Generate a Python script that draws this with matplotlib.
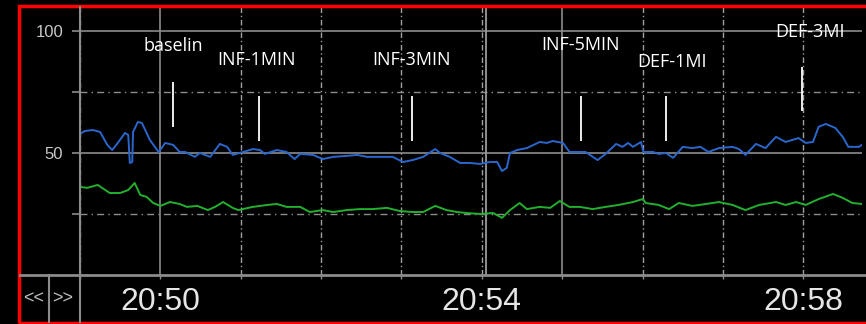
import matplotlib.pyplot as plt
from matplotlib.lines import Line2D
from matplotlib.patches import Rectangle

# Trend data, time in minutes after 20:49
blue_t = [0.00, 0.06, 0.16, 0.25, 0.34, 0.40, 0.47, 0.56, 0.60, 0.62, 0.65, 0.66,
          0.72, 0.77, 0.87, 0.96, 0.98, 1.06, 1.16, 1.24, 1.31, 1.43, 1.49, 1.62,
          1.74, 1.83, 1.90, 2.03, 2.15, 2.24, 2.30, 2.45, 2.57, 2.67, 2.74, 2.90,
          3.02, 3.15, 3.32, 3.45, 3.57, 3.73, 3.89, 4.02, 4.14, 4.27, 4.42, 4.48,
          4.60, 4.73, 4.85, 4.98, 5.10, 5.19, 5.25, 5.31, 5.35, 5.44, 5.56, 5.72,
          5.81, 5.88, 6.01, 6.09, 6.22, 6.29, 6.44, 6.54, 6.67, 6.75, 6.82, 6.88,
          6.98, 7.01, 7.13, 7.20, 7.29, 7.38, 7.50, 7.62, 7.72, 7.82, 7.95, 8.12,
          8.20, 8.28, 8.41, 8.53, 8.66, 8.78, 8.94, 9.03, 9.12, 9.19, 9.28, 9.40,
          9.49, 9.56, 9.69, 9.73]
blue_v = [57.8, 59.0, 59.4, 58.6, 53.3, 51.2, 54.1, 58.2, 57.4, 45.9, 46.3, 58.6,
          62.7, 62.3, 55.3, 51.2, 50.4, 54.1, 53.3, 50.4, 50.4, 48.4, 50.0, 48.4,
          53.7, 52.5, 49.2, 50.4, 51.6, 51.2, 49.6, 51.2, 50.4, 47.5, 49.6, 49.2,
          47.5, 48.4, 48.8, 49.2, 48.4, 48.4, 48.4, 46.3, 47.1, 48.4, 51.6, 50.0,
          48.4, 45.9, 45.9, 45.5, 46.3, 46.3, 42.6, 43.9, 50.0, 51.2, 52.0, 54.5,
          54.1, 54.9, 54.1, 50.4, 50.4, 50.4, 47.1, 49.6, 53.7, 52.5, 54.1, 52.5,
          54.5, 50.4, 50.4, 49.6, 50.0, 48.0, 52.5, 52.0, 52.5, 50.4, 52.0, 52.5,
          51.6, 49.2, 53.7, 52.0, 56.6, 54.5, 56.1, 54.1, 54.5, 60.7, 61.9, 60.2,
          56.6, 52.5, 52.5, 53.3]

green_t = [0.00, 0.09, 0.22, 0.37, 0.50, 0.60, 0.68, 0.75, 0.83, 0.91, 1.00, 1.12,
           1.24, 1.33, 1.46, 1.59, 1.68, 1.78, 1.90, 1.97, 2.15, 2.33, 2.45, 2.57,
           2.74, 2.86, 3.02, 3.15, 3.32, 3.48, 3.64, 3.82, 3.98, 4.14, 4.27, 4.42,
           4.56, 4.69, 4.81, 4.98, 5.14, 5.25, 5.35, 5.47, 5.56, 5.72, 5.85, 5.97,
           6.09, 6.22, 6.38, 6.54, 6.70, 6.88, 7.00, 7.04, 7.20, 7.33, 7.45, 7.62,
           7.79, 7.95, 8.12, 8.28, 8.45, 8.66, 8.78, 8.91, 9.03, 9.19, 9.37, 9.49,
           9.61, 9.73]
green_v = [36.1, 35.7, 36.9, 33.6, 33.6, 34.8, 37.7, 32.8, 32.0, 29.5, 28.3, 29.9,
           29.1, 27.9, 28.3, 26.6, 27.9, 29.9, 27.5, 26.6, 27.9, 28.7, 29.1, 27.9,
           27.9, 25.8, 26.6, 25.8, 26.6, 27.0, 27.0, 27.5, 26.2, 25.8, 25.8, 28.3,
           26.6, 25.8, 25.4, 25.0, 25.4, 23.4, 26.6, 29.5, 27.0, 27.9, 27.5, 30.3,
           27.9, 27.9, 27.0, 27.9, 28.7, 29.9, 31.1, 29.5, 28.7, 27.0, 29.5, 28.3,
           29.1, 29.9, 28.7, 26.6, 28.7, 29.9, 28.7, 29.9, 28.7, 31.1, 33.2, 31.6,
           29.5, 29.1]

# Event markers
event_labels = ["baselin", "INF-1MIN", "INF-3MIN", "INF-5MIN", "DEF-1MI", "DEF-3MI"]
event_times = [1.16, 2.23, 4.13, 6.23, 7.29, 8.98]

# Time axis labels
tick_times = [1, 5, 9]
tick_labels = ["20:50", "20:54", "20:58"]

# marker/label placement
mark_lo = [60.7, 54.9, 54.9, 54.9, 54.9, 67.2]
mark_hi = [79.1, 73.4, 73.4, 73.4, 73.4, 85.2]
label_y = [93.9, 88.1, 88.1, 94.3, 87.3, 99.6]
label_dx = [0.0, -0.04, 0.0, 0.0, 0.07, 0.10]

W, H = 866, 324
fig = plt.figure(figsize=(W / 100, H / 100), dpi=100, facecolor="black")
ax = fig.add_axes([80 / W, 1 - 275 / H, (862 - 80) / W, (275 - 7) / H])
ax.set_facecolor("black")
ax.set_xlim(0, 9.73)
ax.set_ylim(0, 109.8)

grid_c = "#8c8c8c"
# horizontal grid
for v in [50, 100]:
    ax.axhline(v, color=grid_c, lw=1.2, zorder=1)
for v in [25, 75]:
    ax.axhline(v, color=grid_c, lw=1.0, ls=(0, (5, 3, 1, 3)), zorder=1)
# vertical grid, one per minute, solid every 5 minutes
for m in range(0, 10):
    if (49 + m) % 5 == 0:
        ax.axvline(m, color=grid_c, lw=1.2, zorder=1)
    else:
        ax.axvline(m, color="#a0a0a0", lw=1.0, ls=(0, (4, 2, 1, 2)), zorder=1)
# cursor line
ax.axvline(5.05, color="#9a9a9a", lw=1.3, zorder=1)

ax.plot(blue_t, blue_v, color="#2a66cc", lw=1.4, zorder=3)
ax.plot(green_t, green_v, color="#22b02e", lw=1.4, zorder=3)

for lab, t, lo, hi, ly, dx in zip(event_labels, event_times, mark_lo, mark_hi,
                                  label_y, label_dx):
    ax.vlines(t, lo, hi, color="white", lw=1.3, zorder=4)
    ax.text(t + dx, ly, lab, color="white", fontsize=13, family="Open Sans",
            ha="center", va="center", zorder=4)

for s in ax.spines.values():
    s.set_visible(False)

ax.set_yticks([25, 50, 75, 100])
ax.set_yticklabels(["", "50", "", "100"])
ax.tick_params(axis="y", colors=grid_c, length=6, width=1.2, pad=6,
               labelcolor="#c8c8c8", labelsize=12)
ax.set_xticks(tick_times)
ax.set_xticklabels(tick_labels)
ax.set_xticks(range(0, 10), minor=True)
ax.tick_params(axis="x", which="both", colors=grid_c, length=3, width=1.0,
               pad=6, labelcolor="#e6e6e6", labelsize=23)
for lbl in ax.get_xticklabels() + ax.get_yticklabels():
    lbl.set_family("Liberation Sans")

# frame lines outside the plot area
def fig_line(x0, y0, x1, y1, c=grid_c, lw=1.5):
    fig.add_artist(Line2D([x0 / W, x1 / W], [1 - y0 / H, 1 - y1 / H],
                          transform=fig.transFigure, color=c, lw=lw))

fig_line(20, 275, 866, 275, lw=2.0)
fig_line(80, 7, 80, 322)
fig_line(49, 275, 49, 322)
fig.text(34 / W, 1 - 299 / H, "<<", color="#bbbbbb", fontsize=13,
         family="Liberation Sans", ha="center", va="center")
fig.text(63 / W, 1 - 299 / H, ">>", color="#bbbbbb", fontsize=13,
         family="Liberation Sans", ha="center", va="center")

# red border
fig.add_artist(Rectangle((18.5 / W, 1 - 322.5 / H), 900 / W, 317 / H,
                         transform=fig.transFigure, fill=False,
                         edgecolor="#ff0000", lw=2.5))

fig.savefig("out.png", dpi=100, facecolor="black")
